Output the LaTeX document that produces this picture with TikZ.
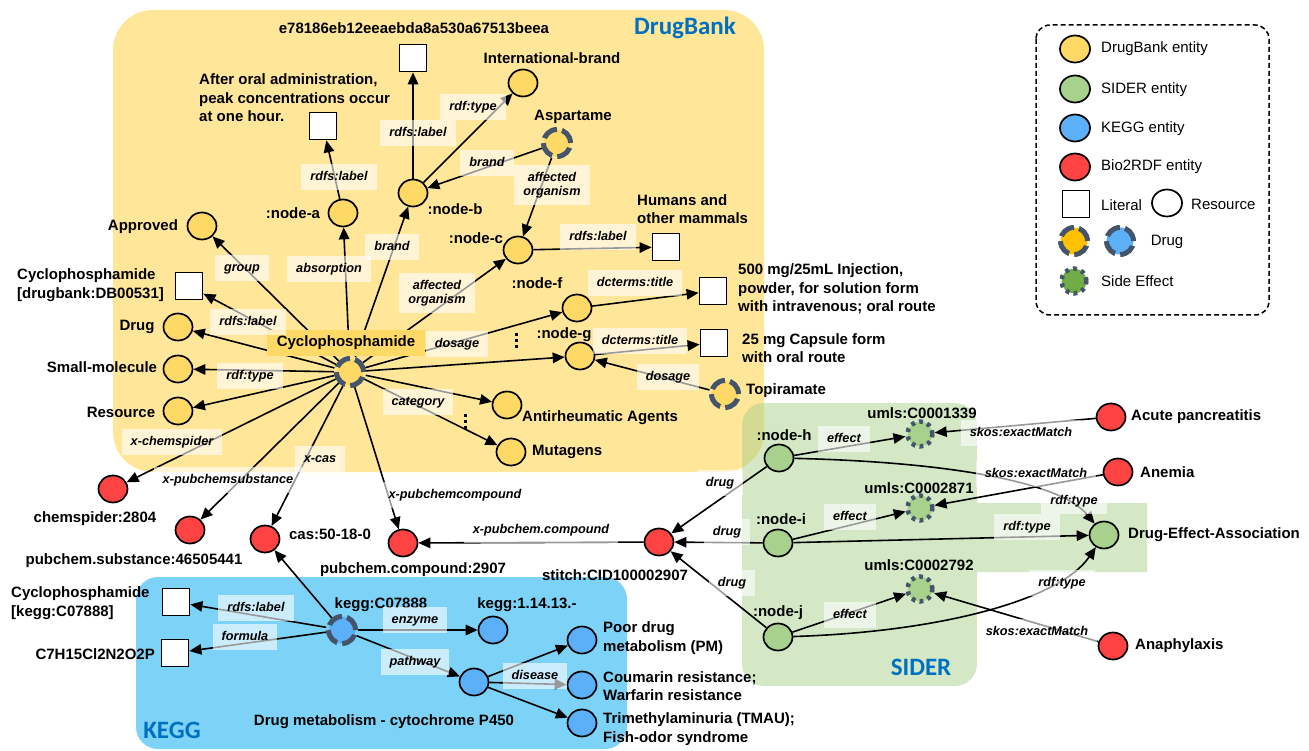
\documentclass[tikz,border=0pt]{standalone}
\usepackage{fontspec}
\setmainfont{Liberation Sans}
\newfontfamily\titlefont{Carlito}
\usetikzlibrary{arrows.meta, shapes.geometric, positioning}

\definecolor{dbbg}{RGB}{255,230,153}
\definecolor{keggbg}{RGB}{125,211,247}
\definecolor{siderbg}{RGB}{169,209,142}
\definecolor{dbfill}{RGB}{255,217,102}
\definecolor{siderfill}{RGB}{169,209,142}
\definecolor{keggfill}{RGB}{91,176,248}
\definecolor{biofill}{RGB}{255,67,67}
\definecolor{ring}{RGB}{68,84,106}
\definecolor{titleblue}{RGB}{0,112,192}
\definecolor{legyellow}{RGB}{255,192,0}
\definecolor{leggreen}{RGB}{112,173,71}

\begin{document}
\begin{tikzpicture}[x=1pt, y=-1pt,
    ent/.style={ellipse, draw, line width=1.7pt, minimum width=29pt,
      minimum height=27pt, inner sep=0pt},
    dbent/.style={ent, fill=dbfill},
    siderent/.style={ent, fill=siderfill},
    keggent/.style={ent, fill=keggfill},
    bioent/.style={ent, fill=biofill},
    literal/.style={draw, line width=1.8pt, fill=white, minimum size=27pt, inner sep=0pt},
    drugnode/.style={circle, draw=ring, line width=5pt,
      dash pattern=on 16pt off 5.2pt, minimum size=27pt, inner sep=0pt},
    sideeffect/.style={circle, draw=ring, fill=siderfill, line width=4.5pt,
      dash pattern=on 3.8pt off 4.5pt, minimum size=25pt, inner sep=0pt},
    rel/.style={line width=1.6pt, -{Triangle[length=12pt, width=10.5pt]}},
    elabbase/.style={fill=white, fill opacity=.6, text opacity=1, align=center,
      font=\bfseries\itshape\fontsize{12.7}{14.5}\selectfont,
      inner xsep=9pt, inner ysep=6.5pt},
    elab/.style={elabbase, text height=9.5pt, text depth=3pt},
    txt/.style={font=\bfseries\fontsize{15}{18.5}\selectfont, inner sep=0pt, align=left},
    legtxt/.style={font=\fontsize{15}{18}\selectfont, inner sep=0pt, anchor=west},
    region/.style={font=\titlefont\bfseries\fontsize{25}{30}\selectfont,
      text=titleblue, inner sep=0pt},
    drugname/.style={fill=dbfill, font=\bfseries\fontsize{15}{18}\selectfont,
      inner xsep=10pt, inner ysep=6pt, text height=11pt, text depth=3.5pt}]
  \useasboundingbox (0,0) rectangle (1309,751);

  % sources
  \fill[dbbg, rounded corners=40pt] (113,10) rectangle (764,472);
  \fill[keggbg, rounded corners=22pt] (136,577) rectangle (627,749);
  \fill[siderbg, fill opacity=.5, rounded corners=22pt] (742,403) rectangle (977,686)
    [sharp corners] (960,503) rectangle (1147,572);
  \node[region] (t-db) at (685,28) {DrugBank};
  \node[region] (t-sider) at (921,667) {SIDER};
  \node[region] (t-kegg) at (172,730) {KEGG};

  % DrugBank
  \node[drugnode, fill=dbfill] (cy) at (350,372) {};
  \node[dbent] (appr) at (202,226) {};
  \node[literal] (cylit) at (189,286) {};
  \node[dbent] (drugc) at (178,327) {};
  \node[dbent] (smol) at (178,369) {};
  \node[dbent] (resrc) at (178,411) {};
  \node[dbent] (nodea) at (343,213) {};
  \node[dbent] (nodeb) at (413,193) {};
  \node[dbent] (nodec) at (518,250) {};
  \node[dbent] (nodef) at (577,308) {};
  \node[dbent] (nodeg) at (580,356) {};
  \node[dbent] (antir) at (507,405) {};
  \node[dbent] (mutag) at (511,452) {};
  \node[literal] (afterlit) at (323,126) {};
  \node[literal] (e78) at (413,58) {};
  \node[dbent] (intl) at (523,83) {};
  \node[drugnode, fill=dbfill] (asp) at (557,143) {};
  \node[literal] (humlit) at (666,247) {};
  \node[literal] (lit500) at (713,291) {};
  \node[literal] (lit25) at (714,343) {};
  \node[drugnode, fill=dbfill] (topi) at (725,394) {};

  \node[txt] (e78-t) at (414,28) {e78186eb12eeaebda8a530a67513beea};
  \node[txt] (intl-t) at (552,58) {International-brand};
  \node[txt, anchor=west] (afterlit-t) at (199,98)
    {After oral administration,\\peak concentrations occur\\at one hour.};
  \node[txt] (asp-t) at (573,117) {Aspartame};
  \node[txt] (nodeb-t) at (455,209) {:node-b};
  \node[txt] (nodea-t) at (293,213) {:node-a};
  \node[txt] (appr-t) at (143,227) {Approved};
  \node[txt] (nodec-t) at (476,238) {:node-c};
  \node[txt, anchor=west] (humlit-t) at (637,209) {Humans and\\other mammals};
  \node[txt, anchor=west] (cylit-t) at (17,285) {Cyclophosphamide\\{}[drugbank:DB00531]};
  \node[txt] (drugc-t) at (137,327) {Drug};
  \node[txt] (smol-t) at (102,367) {Small-molecule};
  \node[txt] (resrc-t) at (121,412) {Resource};
  \node[txt] (nodef-t) at (537,283) {:node-f};
  \node[txt] (nodeg-t) at (564,335) {:node-g};
  \node[txt, anchor=west] (lit500-t) at (738,289)
    {500 mg/25mL Injection,\\powder, for solution form\\with intravenous; oral route};
  \node[txt, anchor=west] (lit25-t) at (742,348) {25 mg Capsule form\\with oral route};
  \node[txt, anchor=west] (topi-t) at (746,391) {Topiramate};
  \node[txt, anchor=west] (antir-t) at (522,418) {Antirheumatic Agents};
  \node[txt, anchor=west] (mutag-t) at (532,452) {Mutagens};
  % more of the same
  \foreach \d in {-6,0,6} {
    \fill (514.5,338.5+\d) rectangle ++(3,3);
    \fill (463.5,419.5+\d) rectangle ++(3,3);
  }

  % Bio2RDF
  \node[bioent] (chems) at (113,489) {};
  \node[bioent] (pcsub) at (190,530) {};
  \node[bioent] (cas) at (265,539) {};
  \node[bioent] (pccomp) at (403,543) {};
  \node[bioent] (stitch) at (659,542) {};
  \node[bioent] (acute) at (1111,417) {};
  \node[bioent] (anemia) at (1118,472) {};
  \node[bioent] (anaph) at (1113,646) {};
  \node[txt] (chems-t) at (95,519) {chemspider:2804};
  \node[txt] (pcsub-t) at (134,561) {pubchem.substance:46505441};
  \node[txt] (cas-t) at (330,534) {cas:50-18-0};
  \node[txt] (pccomp-t) at (413,570) {pubchem.compound:2907};
  \node[txt] (stitch-t) at (615,575) {stitch:CID100002907};
  \node[txt, anchor=west] (acute-t) at (1131,417) {Acute pancreatitis};
  \node[txt, anchor=west] (anemia-t) at (1140,472) {Anemia};
  \node[txt, anchor=west] (anaph-t) at (1135,646) {Anaphylaxis};

  % SIDER
  \node[siderent] (nodeh) at (779,458) {};
  \node[siderent] (nodei) at (778,543) {};
  \node[siderent] (nodej) at (778,637) {};
  \node[sideeffect] (se1) at (920,434) {};
  \node[sideeffect] (se2) at (920,508) {};
  \node[sideeffect] (se3) at (920,589) {};
  \node[siderent] (dea) at (1104,535) {};
  \node[txt] (nodeh-t) at (784,435) {:node-h};
  \node[txt] (nodei-t) at (781,519) {:node-i};
  \node[txt] (nodej-t) at (778,613) {:node-j};
  \node[txt] (se1-t) at (922,413) {umls:C0001339};
  \node[txt] (se2-t) at (919,488) {umls:C0002871};
  \node[txt] (se3-t) at (919,565) {umls:C0002792};
  \node[txt, anchor=west] (dea-t) at (1128,535) {Drug-Effect-Association};

  % KEGG
  \node[drugnode, fill=keggfill] (keggd) at (342,630) {};
  \node[literal] (kcylit) at (176,602) {};
  \node[literal] (kform) at (175,653) {};
  \node[keggent] (kenz) at (493,630) {};
  \node[keggent] (kpath) at (474,682) {};
  \node[keggent] (kpoor) at (582,640) {};
  \node[keggent] (kcoum) at (582,685) {};
  \node[keggent] (ktrim) at (582,723) {};
  \node[txt, anchor=west] (kcylit-t) at (11,603) {Cyclophosphamide\\{}[kegg:C07888]};
  \node[txt, anchor=east] (kform-t) at (155,654) {C7H15Cl2N2O2P};
  \node[txt] (keggd-t) at (381,605) {kegg:C07888};
  \node[txt] (kenz-t) at (527,605) {kegg:1.14.13.-};
  \node[txt] (kpath-t) at (384,722) {Drug metabolism - cytochrome P450};
  \node[txt, anchor=west] (kpoor-t) at (603,638) {Poor drug\\metabolism (PM)};
  \node[txt, anchor=west] (kcoum-t) at (603,686) {Coumarin resistance;\\Warfarin resistance};
  \node[txt, anchor=west] (ktrim-t) at (603,729) {Trimethylaminuria (TMAU);\\Fish-odor syndrome};

  % edges
  \foreach \t in {appr,cylit,drugc,smol,resrc,nodea,nodeb,nodec,nodef,nodeg,
      antir,mutag,chems,pcsub,cas,pccomp}
    \draw[rel] (cy) -- (\t);
  \draw[rel] (nodea) -- (afterlit);
  \draw[rel] (nodeb) -- (e78);
  \draw[rel] (nodeb) -- (intl);
  \draw[rel] (asp) -- (nodeb);
  \draw[rel] (asp) -- (nodec);
  \draw[rel] (nodec) -- (humlit);
  \draw[rel] (nodef) -- (lit500);
  \draw[rel] (nodeg) -- (lit25);
  \draw[rel] (topi) -- (nodeg);
  \draw[rel] (stitch) -- (pccomp);
  \foreach \s in {nodeh,nodei,nodej}
    \draw[rel] (\s) -- (stitch);
  \draw[rel] (nodeh) -- (se1);
  \draw[rel] (nodei) -- (se2);
  \draw[rel] (nodej) -- (se3);
  \draw[rel] (acute) -- (se1);
  \draw[rel] (anemia) -- (se2);
  \draw[rel] (anaph) -- (se3);
  \draw[rel] (nodeh) .. controls (950,462) and (1060,482) .. (dea);
  \draw[rel] (nodei) -- (dea);
  \draw[rel] (nodej) .. controls (940,632) and (1060,600) .. (dea);
  \foreach \t in {kcylit,kform,cas,kenz,kpath}
    \draw[rel] (keggd) -- (\t);
  \foreach \t in {kpoor,kcoum,ktrim}
    \draw[rel] (kpath) -- (\t);

  \node[drugname] (cy-t) at (346,343) {Cyclophosphamide};

  % edge labels
  \foreach \p/\t [count=\i] in {{242,268}/group, {248,322}/rdfs:label,
      {250,376}/rdf:type, {329,269}/absorption, {392,247}/brand,
      {457,344}/dosage, {418,402}/category, {172,442}/x-chemspider,
      {228,480}/x-pubchemsubstance, {320,459}/x-cas, {455,495}/x-pubchemcompound,
      {339,177}/rdfs:label, {418,133}/rdfs:label, {473,107}/rdf:type,
      {487,163}/brand, {598,237}/rdfs:label, {635,283}/dcterms:title,
      {640,341}/dcterms:title, {668,377}/dosage,
      {541,530}/x-pubchem.compound, {720,483}/drug, {727,532}/drug, {732,583}/drug,
      {844,439}/effect, {850,517}/effect, {850,615}/effect,
      {1021,433}/skos:exactMatch, {1036,474}/skos:exactMatch, {1037,632}/skos:exactMatch,
      {1074,501}/rdf:type, {1027,527}/rdf:type, {1062,583}/rdf:type,
      {256,608}/rdfs:label, {245,637}/formula, {415,620}/enzyme,
      {415,662}/pathway, {535,676}/disease}
    \node[elab] (lb\i) at (\p) {\t};
  \node[elabbase] (lb-org1) at (437,293) {affected\\organism};
  \node[elabbase] (lb-org2) at (552,185) {affected\\organism};

  % legend
  \draw[line width=1.5pt, dash pattern=on 5pt off 3pt, rounded corners=14pt]
    (1036,25) rectangle (1269,315);
  \node[dbent, minimum width=30pt] (lg-db) at (1075,49) {};
  \node[legtxt] (lg-db-t) at (1101,49) {DrugBank entity};
  \node[siderent, minimum width=30pt] (lg-sider) at (1075,89) {};
  \node[legtxt] (lg-sider-t) at (1101,90) {SIDER entity};
  \node[keggent, minimum width=30pt] (lg-kegg) at (1075,128) {};
  \node[legtxt] (lg-kegg-t) at (1101,129) {KEGG entity};
  \node[bioent, minimum width=30pt] (lg-bio) at (1075,167) {};
  \node[legtxt] (lg-bio-t) at (1101,167) {Bio2RDF entity};
  \node[literal] (lg-lit) at (1076,204) {};
  \node[legtxt] (lg-lit-t) at (1101,205) {Literal};
  \node[ent, minimum width=30pt, fill=white] (lg-res) at (1167,203) {};
  \node[legtxt] (lg-res-t) at (1191,204) {Resource};
  \node[drugnode, fill=legyellow] (lg-drug1) at (1074,241) {};
  \node[drugnode, fill=keggfill] (lg-drug2) at (1120,241) {};
  \node[legtxt, anchor=center] (lg-drug-t) at (1167,242) {Drug};
  \node[sideeffect, fill=leggreen] (lg-se) at (1074,281) {};
  \node[legtxt] (lg-se-t) at (1101,281) {Side Effect};
\end{tikzpicture}
\end{document}
